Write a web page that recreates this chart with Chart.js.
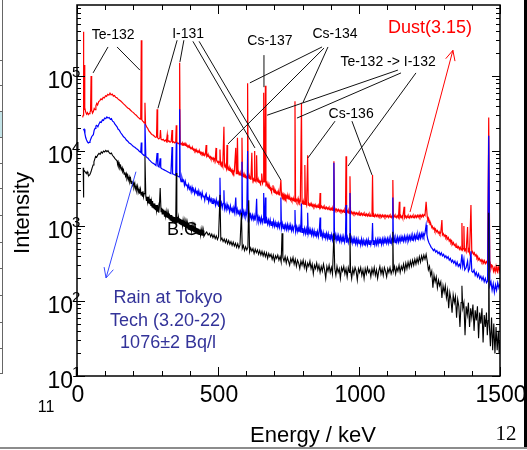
<!DOCTYPE html>
<html>
<head>
<meta charset="utf-8">
<script src="https://cdn.jsdelivr.net/npm/chart.js@4.4.1/dist/chart.umd.min.js"></script>
<style>
	body { margin: 0; background: #fff; }
	canvas { display: block; }
</style>
</head>
<body>
<canvas id="spectrum" width="527" height="450"></canvas>
<script type="text/javascript">
	/*jshint esversion: 6 */
	// [keV, counts]
	var dustSpectrum = [
		[20,28000],[22,30000],[23,390000],[24,40000],[26,36000],[27,140000],[28,38000],[31,33000],[34,31000],[37,32500],
		[40,30500],[43,31500],[46,33000],[48,34000],[50,100000],[52,35000],[55,32000],[58,33500],[61,37000],[64,35500],
		[67,40000],[70,43000],[73,41000],[77,45500],[81,47000],[85,49500],[89,48500],[93,52000],[97,51000],[101,54500],
		[105,53500],[109,57000],[113,55500],[117,59000],[121,56000],[125,57500],[129,54000],[133,55000],[137,52000],[141,51500],
		[145,49500],[150,48000],[155,46500],[160,44500],[165,42500],[170,41000],[175,39000],[180,37500],[185,36500],[190,35000],
		[195,33500],[200,32500],[205,31000],[210,30000],[215,28500],[220,27500],[224,26500],[226,27000],[228,300000],[230,26000],
		[233,25000],[236,24500],[239,23500],[241,44000],[243,22500],[247,21000],[251,20000],[255,18500],[259,17800],[263,17000],
		[267,16500],[271,16200],[275,15600],[279,15200],[282,15400],[284,36000],[286,15000],[290,14500],[294,15000],[296,19000],
		[298,14400],[302,14000],[306,14300],[310,13600],[314,14000],[317,13400],[320,16500],[322,13300],[326,13700],[330,13100],
		[334,13400],[337,19000],[339,13000],[343,13300],[347,12800],[350,13100],[352,22000],[354,12600],[358,12800],[362,12400],
		[364,150000],[366,12300],[370,12600],[373,12000],[375,12700],[378,12100],[380,12600],[383,11900],[385,12300],[388,11600],
		[390,12000],[393,11300],[395,11700],[398,11100],[400,11500],[403,10800],[405,11100],[408,10600],[410,11000],[413,10300],
		[415,10600],[418,10000],[420,10400],[423,9800],[425,10200],[428,9600],[430,10000],[433,9500],[435,9900],[438,9200],
		[440,9600],[443,9100],[445,9400],[448,8800],[450,9200],[453,8700],[455,9000],[458,12000],[460,8500],[463,8900],
		[465,8400],[468,8600],[470,8100],[473,8400],[475,7900],[478,8200],[480,7800],[483,8100],[485,7600],[488,7900],
		[490,7400],[493,11000],[495,7500],[498,7100],[500,7300],[503,6900],[505,7100],[507,10500],[509,6700],[511,7000],
		[513,6600],[515,6900],[517,6400],[521,21000],[523,6400],[525,6100],[527,6300],[530,5800],[532,12000],[534,5900],
		[536,5600],[538,5800],[540,5500],[542,5800],[544,5400],[546,5600],[548,5300],[550,5600],[552,5200],[554,5400],
		[556,5100],[558,5400],[563,11000],[565,5000],[567,5300],[569,15000],[571,5000],[573,5200],[575,4800],[577,5000],
		[579,4800],[581,5000],[583,4700],[585,15000],[587,4800],[589,4550],[591,4750],[593,4500],[595,4700],[597,4400],
		[599,4600],[601,4400],[603,4600],[605,80000],[607,4400],[609,4600],[611,4300],[613,4500],[615,4200],[617,4400],
		[620,9500],[622,4250],[624,4050],[626,4250],[628,4000],[630,10000],[632,4100],[634,3950],[635,4150],[637,8800],
		[639,3950],[641,4100],[643,3850],[645,4050],[647,3800],[649,3950],[651,3750],[653,3950],[655,5000],[658,3700],
		[660,3900],[662,60000],[664,4500],[666,3800],[668,74000],[670,3600],[672,3750],[674,3400],[676,3500],[678,3250],
		[680,3400],[682,3150],[684,3300],[686,3050],[688,3200],[690,2950],[692,3100],[695,3500],[697,2950],[699,2800],
		[701,2950],[703,2750],[705,2900],[708,2700],[710,2850],[713,2650],[715,2800],[717,2600],[719,2700],[723,4100],
		[725,2550],[727,2700],[729,2500],[731,2650],[733,2450],[735,2600],[737,2420],[739,2550],[741,2350],[743,2500],
		[745,2350],[747,2480],[749,2300],[751,2420],[753,2280],[755,2400],[757,2230],[760,2350],[762,2200],[765,2320],
		[767,2180],[769,2280],[771,2150],[773,46000],[775,2150],[778,2250],[780,2100],[782,2200],[784,2350],[786,2080],
		[788,2180],[790,2050],[792,2150],[796,44000],[798,2000],[800,2100],[802,1960],[804,2080],[806,1950],[808,6500],
		[810,1940],[812,2050],[814,1920],[818,8800],[820,1900],[822,2000],[825,1880],[827,1980],[830,1850],[832,1950],
		[835,1830],[837,1930],[840,1810],[842,1900],[845,1800],[847,1890],[850,1780],[852,1870],[855,1770],[857,1860],
		[860,1750],[862,2750],[864,1760],[867,1840],[870,1730],[873,1820],[876,1710],[879,1800],[882,1690],[885,1780],
		[888,1680],[891,1760],[894,1650],[897,1740],[900,1640],[903,1720],[905,1630],[907,1710],[909,1620],[911,7300],
		[913,1620],[915,1700],[918,1600],[921,1680],[924,1580],[927,1660],[930,1560],[933,1640],[936,1550],[939,1630],
		[942,1530],[945,1610],[948,1520],[950,1600],[952,1510],[954,8500],[956,1500],[959,1590],[962,1490],[964,1570],
		[966,1470],[968,4600],[970,1470],[973,1550],[976,1450],[979,1530],[982,1440],[985,1520],[988,1430],[991,1500],
		[994,1420],[997,1500],[1000,1400],[1003,1490],[1006,1400],[1009,1480],[1012,1390],[1015,1470],[1018,1380],[1021,1460],
		[1024,1370],[1027,1450],[1030,1360],[1033,1440],[1036,1350],[1039,1440],[1042,1350],[1046,1370],[1048,4800],[1050,1340],
		[1053,1420],[1056,1330],[1059,1420],[1062,1340],[1065,1410],[1068,1320],[1071,1410],[1074,1330],[1077,1400],[1080,1310],
		[1083,1400],[1086,1320],[1089,1390],[1092,1310],[1095,1390],[1098,1320],[1101,1380],[1104,1300],[1107,1390],[1110,1310],
		[1113,1380],[1116,1300],[1118,1360],[1120,4100],[1122,1300],[1125,1380],[1128,1310],[1131,1370],[1134,1290],[1137,1370],
		[1140,1300],[1143,2100],[1145,1290],[1148,1370],[1150,1300],[1153,1360],[1155,1280],[1160,1800],[1162,1290],[1165,1360],
		[1168,1280],[1171,1370],[1174,1290],[1177,1360],[1180,1280],[1183,1370],[1186,1300],[1189,1370],[1192,1290],[1195,1380],
		[1198,1300],[1201,1380],[1204,1300],[1207,1390],[1210,1310],[1213,1400],[1216,1310],[1219,1400],[1222,1320],[1225,1410],
		[1228,1330],[1231,1420],[1234,1380],[1238,2100],[1242,1320],[1244,1200],[1246,1260],[1248,1130],[1250,1150],[1252,1040],
		[1255,1060],[1258,960],[1260,990],[1263,910],[1266,950],[1269,860],[1272,900],[1275,840],[1278,870],[1281,800],
		[1284,840],[1287,780],[1290,820],[1294,1200],[1296,760],[1299,790],[1302,730],[1305,760],[1308,700],[1311,730],
		[1314,670],[1317,700],[1320,630],[1323,660],[1326,600],[1329,630],[1332,570],[1335,600],[1338,550],[1341,570],
		[1344,520],[1347,550],[1350,510],[1353,530],[1356,490],[1359,520],[1362,480],[1365,1100],[1367,480],[1370,500],
		[1372,1000],[1374,470],[1377,490],[1380,455],[1385,970],[1387,450],[1390,470],[1392,440],[1397,1900],[1400,435],
		[1403,455],[1406,420],[1409,440],[1412,400],[1415,415],[1418,375],[1421,390],[1424,355],[1427,370],[1430,340],
		[1433,355],[1436,330],[1439,350],[1442,320],[1445,345],[1448,315],[1452,335],[1456,310],[1460,28000],[1464,290],
		[1466,310],[1468,270],[1471,300],[1474,290],[1477,250],[1480,275],[1483,245],[1486,290],[1489,250],[1492,240],
		[1494,280],[1496,300],[1498,255],[1500,280]
	];
	var rainSpectrum = [
		[22,19000],[25,19500],[28,17000],[31,15000],[34,14000],[37,13200],[40,12800],[43,13000],[46,13500],[49,14500],
		[52,15500],[55,16000],[58,16500],[61,19000],[64,20000],[67,21500],[70,22000],[74,21000],[78,23000],[82,24500],
		[86,24000],[90,26000],[94,25500],[98,27500],[102,27000],[106,28500],[110,27500],[114,28000],[118,26500],[122,27000],
		[126,25000],[130,24500],[134,23000],[138,22000],[142,21000],[146,19500],[150,19000],[155,17500],[160,16500],[165,15500],
		[170,15000],[175,14000],[180,13500],[185,12800],[190,12500],[195,12000],[200,11500],[205,11200],[210,10800],[215,10500],
		[220,10000],[224,9700],[226,9600],[228,13000],[230,9300],[234,9000],[238,8700],[241,23000],[244,8500],[248,8200],
		[252,8000],[256,7600],[260,7400],[264,7100],[268,6900],[272,6800],[276,6600],[280,6400],[284,9400],[287,6300],
		[291,6100],[295,8000],[297,6000],[301,5800],[305,5700],[309,5600],[313,5500],[317,5400],[321,5300],[325,5200],
		[329,5100],[333,5000],[337,11300],[339,4950],[343,4900],[347,4800],[350,4750],[352,13000],[354,4700],[358,4600],
		[362,4500],[364,36000],[366,4400],[369,3900],[372,4450],[375,3950],[378,4100],[381,3500],[384,3950],[387,3450],
		[390,3600],[393,3150],[396,3550],[399,3100],[402,3300],[405,2850],[408,3300],[411,2900],[414,3050],[417,2700],
		[420,3100],[423,2750],[426,2900],[429,2500],[432,2950],[435,2600],[438,2750],[441,2400],[444,2800],[447,2450],
		[450,2550],[453,2200],[456,2600],[458,2700],[461,2250],[464,2450],[467,2100],[470,2450],[473,2150],[476,2300],
		[479,2000],[482,2350],[485,2050],[488,2200],[491,1900],[494,2250],[497,1950],[500,2100],[503,1800],[505,2150],
		[507,4400],[509,1850],[512,2050],[515,1750],[518,2000],[521,3000],[523,1700],[526,1900],[529,1650],[532,1950],
		[535,1700],[538,1800],[541,1550],[544,1850],[547,1600],[550,1720],[553,1480],[556,1750],[559,1520],[563,2400],
		[565,1500],[568,1680],[571,1450],[574,1650],[577,1420],[580,1580],[583,1380],[585,7200],[587,1400],[590,1580],
		[593,1350],[596,1550],[599,1330],[602,1480],[605,10000],[607,1300],[610,1480],[613,1270],[616,1420],[619,1240],
		[622,1400],[625,1220],[628,1380],[631,1180],[634,1350],[637,2300],[639,1170],[642,1330],[645,1150],[648,1290],
		[651,1120],[654,1300],[657,1110],[660,1260],[662,2750],[664,1100],[666,1250],[668,2400],[670,1080],[673,1230],
		[676,1060],[679,1200],[682,1040],[685,1210],[688,1020],[691,1160],[694,1000],[697,1170],[700,990],[703,1120],
		[706,980],[709,1140],[712,960],[715,1090],[718,950],[721,1100],[723,2400],[725,940],[728,1080],[731,920],
		[734,1070],[737,910],[740,1040],[743,900],[746,1050],[749,890],[752,1020],[755,880],[758,1030],[761,870],
		[764,990],[767,860],[770,1000],[773,1630],[775,850],[778,980],[781,840],[784,960],[787,830],[790,970],
		[793,820],[796,2000],[798,820],[801,940],[804,800],[807,930],[810,790],[813,920],[816,780],[818,1500],
		[820,790],[823,900],[826,770],[829,890],[832,760],[835,880],[838,750],[841,870],[844,740],[847,860],
		[850,740],[853,850],[856,720],[859,840],[862,1300],[864,720],[867,830],[870,700],[873,820],[876,700],
		[879,810],[882,690],[885,800],[888,680],[891,790],[894,670],[897,780],[900,670],[903,770],[906,650],
		[909,760],[911,7000],[913,650],[916,760],[919,640],[922,750],[925,630],[928,740],[931,630],[934,730],
		[937,620],[940,720],[943,610],[946,720],[949,610],[952,700],[954,1900],[956,600],[959,700],[962,600],
		[965,690],[968,2750],[970,590],[973,690],[976,590],[979,680],[982,580],[985,680],[988,580],[991,670],
		[994,570],[997,670],[1000,580],[1003,660],[1006,560],[1009,670],[1012,570],[1015,650],[1018,560],[1021,660],
		[1024,570],[1027,650],[1030,560],[1033,660],[1036,570],[1039,650],[1042,560],[1046,660],[1048,1100],[1050,570],
		[1053,650],[1056,560],[1059,660],[1062,570],[1065,660],[1068,570],[1071,670],[1074,580],[1077,660],[1080,570],
		[1083,670],[1086,580],[1089,680],[1092,580],[1095,670],[1098,590],[1101,680],[1104,590],[1107,690],[1110,590],
		[1113,680],[1116,600],[1118,690],[1120,2400],[1122,600],[1125,700],[1128,600],[1131,690],[1134,610],[1137,710],
		[1140,610],[1143,700],[1146,620],[1149,720],[1152,620],[1155,710],[1158,630],[1161,730],[1164,630],[1167,720],
		[1170,640],[1173,740],[1176,640],[1179,730],[1182,650],[1185,750],[1188,650],[1191,740],[1194,660],[1197,760],
		[1200,660],[1203,760],[1206,670],[1209,770],[1212,680],[1215,780],[1218,690],[1221,790],[1224,700],[1227,800],
		[1230,720],[1234,800],[1238,1030],[1241,760],[1244,660],[1248,600],[1252,560],[1256,520],[1260,500],[1264,470],
		[1268,490],[1272,450],[1276,470],[1280,430],[1284,450],[1288,410],[1292,440],[1296,400],[1300,420],[1304,380],
		[1308,400],[1312,370],[1316,390],[1320,350],[1324,370],[1328,330],[1332,350],[1336,320],[1340,340],[1344,300],
		[1348,330],[1352,290],[1356,310],[1360,280],[1365,420],[1368,290],[1372,360],[1375,260],[1380,280],[1385,340],
		[1388,250],[1392,270],[1397,460],[1400,250],[1404,240],[1408,260],[1412,220],[1416,240],[1420,210],[1424,230],
		[1428,200],[1432,215],[1436,190],[1440,210],[1444,180],[1448,200],[1452,175],[1456,185],[1460,16000],[1464,160],
		[1468,180],[1472,140],[1476,170],[1480,130],[1484,165],[1488,140],[1492,175],[1496,150],[1500,170]
	];
	var bgSpectrum = [
		[22,6000],[23,2400],[24,5600],[27,5400],[30,5200],[33,5000],[36,5300],[39,4900],[42,4700],[45,4800],
		[48,5100],[51,5500],[54,6000],[57,6500],[60,7200],[63,7800],[66,8500],[70,8300],[74,8900],[78,9300],
		[82,9000],[86,9700],[90,9400],[94,10000],[98,9700],[102,10200],[106,9800],[110,10100],[114,9500],[118,9200],
		[122,9400],[126,8700],[130,8400],[134,8000],[138,7700],[142,7400],[144,6700],[146,7100],[148,6300],[150,6700],
		[152,5900],[155,6300],[157,5600],[160,6000],[162,5300],[165,5600],[167,4900],[170,5200],[172,4600],[175,5000],
		[177,4300],[180,4700],[182,4100],[185,4500],[187,3900],[190,4300],[192,3700],[195,4000],[197,3500],[200,3800],
		[202,3300],[205,3700],[207,3100],[210,3400],[212,3000],[215,3400],[217,2800],[220,3100],[222,2700],[225,3100],
		[227,2600],[230,2850],[232,2500],[234,2900],[236,2450],[238,2700],[241,8500],[244,2500],[246,2200],[248,2450],
		[250,2100],[252,2450],[254,2000],[256,2300],[258,1950],[260,2300],[262,1850],[264,2150],[266,1800],[268,2150],
		[270,1750],[272,2000],[274,1700],[276,2000],[278,1650],[280,1900],[282,1600],[284,1900],[286,1550],[288,1800],
		[290,1500],[292,1800],[295,3200],[298,1550],[300,1750],[302,1450],[304,1700],[306,1450],[308,1650],[310,1350],
		[312,1600],[314,1350],[316,1550],[318,1300],[320,1500],[322,1280],[324,1480],[326,1230],[328,1450],[330,1200],
		[332,1400],[334,1180],[336,1400],[338,1150],[340,1350],[342,1120],[344,1320],[346,1100],[348,1300],[350,1080],
		[352,5100],[354,1080],[356,1330],[358,1110],[360,1300],[362,1080],[364,1270],[366,1060],[368,1240],[370,1040],
		[372,1210],[374,1010],[376,1180],[378,990],[380,1160],[382,970],[384,1130],[386,950],[388,1110],[390,930],
		[392,1090],[394,910],[396,1070],[398,900],[400,1050],[402,880],[404,1030],[406,860],[408,1010],[410,850],
		[412,990],[414,830],[416,980],[418,820],[420,960],[422,800],[424,950],[426,790],[428,930],[430,780],
		[432,920],[434,770],[436,900],[438,760],[440,890],[442,750],[444,880],[446,740],[448,870],[450,730],
		[455,790],[460,830],[465,760],[470,800],[474,720],[478,780],[482,700],[486,760],[490,680],[494,740],
		[498,660],[502,720],[507,2600],[510,650],[514,690],[518,620],[522,670],[526,600],[530,660],[534,580],
		[538,640],[542,570],[546,620],[550,550],[554,610],[558,540],[562,590],[566,520],[570,580],[574,510],
		[578,560],[583,1500],[586,500],[590,550],[594,470],[598,530],[602,480],[606,520],[609,2200],[612,450],
		[616,510],[620,460],[624,500],[628,430],[632,490],[636,440],[640,480],[644,420],[648,470],[652,410],
		[656,460],[660,400],[664,450],[668,390],[672,440],[676,370],[680,430],[684,390],[688,420],[692,360],
		[696,410],[700,340],[704,400],[708,370],[712,410],[716,350],[720,390],[724,330],[727,800],[730,380],
		[734,340],[738,390],[742,320],[746,380],[750,340],[754,300],[758,370],[762,330],[766,380],[770,310],
		[774,360],[778,290],[782,350],[786,320],[790,270],[794,340],[798,300],[802,350],[806,280],[810,330],
		[814,260],[818,320],[822,290],[826,340],[830,270],[834,310],[838,230],[842,300],[846,270],[850,320],
		[854,260],[858,300],[862,240],[866,290],[870,250],[874,310],[878,260],[882,200],[886,290],[890,250],
		[894,300],[898,240],[902,280],[906,230],[911,800],[914,270],[918,220],[922,290],[926,240],[930,270],
		[934,200],[938,280],[942,250],[946,290],[950,230],[954,270],[958,210],[962,280],[966,240],[968,800],
		[970,260],[974,200],[978,270],[982,230],[986,280],[990,250],[994,190],[998,270],[1002,240],[1006,280],
		[1010,220],[1014,260],[1018,200],[1022,270],[1026,230],[1030,280],[1034,240],[1038,260],[1042,210],[1046,270],
		[1050,230],[1054,280],[1058,220],[1062,260],[1066,200],[1070,250],[1074,290],[1078,230],[1082,270],[1086,220],
		[1090,280],[1094,250],[1098,210],[1102,270],[1106,240],[1110,280],[1114,230],[1118,260],[1120,840],[1122,250],
		[1126,290],[1130,230],[1134,280],[1138,250],[1142,300],[1146,240],[1150,290],[1154,260],[1158,310],[1162,250],
		[1166,320],[1170,270],[1174,330],[1178,280],[1182,340],[1186,290],[1190,350],[1194,300],[1198,360],[1202,310],
		[1206,370],[1210,320],[1214,390],[1218,330],[1222,400],[1226,350],[1230,410],[1234,360],[1238,420],[1242,340],
		[1246,260],[1250,290],[1254,220],[1258,250],[1262,150],[1266,220],[1270,180],[1274,210],[1278,150],[1282,190],
		[1286,160],[1290,180],[1294,110],[1298,160],[1302,130],[1306,160],[1310,110],[1314,140],[1318,80],[1322,130],
		[1326,105],[1330,70],[1334,120],[1338,95],[1342,115],[1346,60],[1350,105],[1354,85],[1358,45],[1362,95],
		[1365,160],[1368,80],[1372,95],[1376,35],[1380,85],[1384,65],[1388,95],[1392,45],[1396,80],[1400,60],
		[1404,90],[1408,40],[1412,75],[1416,55],[1420,85],[1424,32],[1428,70],[1432,50],[1436,80],[1440,28],
		[1444,65],[1448,45],[1452,70],[1455,35],[1458,55],[1460,1500],[1462,50],[1466,25],[1470,60],[1474,22],
		[1478,50],[1482,20],[1486,45],[1490,22],[1494,40],[1497,20],[1500,30]
	];

	var xMajorTicks = [0, 500, 1000, 1500];
	var xTickLabels = ['0', '500', '1000', '1500'];
	var xMinorTicks = [100, 200, 300, 400, 600, 700, 800, 900, 1100, 1200, 1300, 1400];
	var yDecades = [1, 2, 3, 4, 5];

	// nuclide labels: text anchor and leader lines, in [keV, counts]
	var peakLabels = [
		{ text: 'Te-132', at: [128, 3.1e5], leaders: [[[110, 2.44e5], [57, 1.1e5]], [[142, 2.44e5], [223, 1.2e5]]] },
		{ text: 'I-131', at: [394, 3.2e5], leaders: [[[355, 3.0e5], [287, 3.7e4]], [[379, 3.0e5], [365, 1.54e5]],
			[[411, 2.9e5], [631, 1.1e4]], [[433, 2.9e5], [723, 4.1e3]]] },
		{ text: 'Cs-137', at: [684, 2.6e5], leaders: [[[663, 1.9e5], [663, 7.1e4]]] },
		{ text: 'Cs-134', at: [915, 3.2e5], leaders: [[[869, 2.44e5], [613, 8.1e4]], [[876, 2.36e5], [535, 1.24e4]],
			[[890, 2.44e5], [801, 4.4e4]]] },
		{ text: 'Te-132 -> I-132', at: [1103, 1.36e5], leaders: [[[1138, 1.2e5], [674, 3.0e4]], [[1149, 1.1e5], [780, 2.75e4]],
			[[1202, 1.1e5], [961, 6.3e3]]] },
		{ text: 'Cs-136', at: [972, 2.75e4], leaders: [[[915, 2.5e4], [819, 8.1e3]], [[975, 2.5e4], [1046, 4.8e3]]] }
	];
	var sampleNotes = [
		{ lines: ['Dust(3.15)'], at: [1252, 3.7e5], color: '#ff0000', arrow: [[1181, 1540], [1333, 2.2e5]] },
		{ lines: ['Rain at Tokyo', 'Tech (3.20-22)', '1076\u00b12 Bq/l'], at: [323, 94], color: '#333399', arrow: [[209, 5300], [103, 203]], arrowColor: '#3344ff' },
		{ lines: ['B.G.'], at: [383, 759], color: '#000000' }
	];

	var SANS = "'Liberation Sans', Arial, sans-serif";

	function toXY(series) {
		return series.map(function(p) { return { x: p[0], y: p[1] }; });
	}

	var decorations = {
		id: 'decorations',
		afterDraw: function(chart) {
			var c = chart.ctx, a = chart.chartArea;
			var xs = chart.scales.x, ys = chart.scales.y;
			var X = function(e) { return xs.getPixelForValue(e); };
			var Y = function(v) { return ys.getPixelForValue(v); };
			c.save();

			// slide leftovers: table edge on the left, frame on the right and bottom
			c.fillStyle = '#c4e4e8';
			c.fillRect(0, 111, 2, 26);
			c.strokeStyle = '#666';
			c.lineWidth = 1;
			c.beginPath();
			c.moveTo(2.5, 0); c.lineTo(2.5, 373);
			[60, 85, 111, 137, 163, 188, 215, 242, 268, 295, 322, 348, 373].forEach(function(y) {
				c.moveTo(0, y + 0.5); c.lineTo(3, y + 0.5);
			});
			c.stroke();
			c.fillStyle = '#000';
			c.fillRect(524, 0, 3, 447);
			c.fillStyle = '#8c8c8c';
			c.fillRect(0, 447, 527, 2);

			// plot frame
			c.strokeStyle = '#000';
			c.lineWidth = 1.5;
			c.strokeRect(a.left, a.top, a.right - a.left, a.bottom - a.top);

			// ticks on all four sides, pointing inward
			c.lineWidth = 1;
			c.beginPath();
			xMajorTicks.concat(xMinorTicks).forEach(function(e) {
				var len = xMajorTicks.indexOf(e) >= 0 ? 9 : 5;
				var px = Math.round(X(e)) + 0.5;
				c.moveTo(px, a.bottom); c.lineTo(px, a.bottom - len);
				c.moveTo(px, a.top); c.lineTo(px, a.top + len);
			});
			yDecades.concat([0]).forEach(function(d) {
				for (var m = 1; m <= 9; m++) {
					var v = m * Math.pow(10, d + 1);
					if (v < ys.min || v > ys.max) continue;
					var len = m === 1 ? 8 : 4;
					var py = Math.round(Y(v)) + 0.5;
					c.moveTo(a.left, py); c.lineTo(a.left + len, py);
					c.moveTo(a.right, py); c.lineTo(a.right - len, py);
				}
			});
			c.stroke();

			// tick labels
			c.fillStyle = '#000';
			c.font = '23px ' + SANS;
			c.textAlign = 'center';
			c.textBaseline = 'alphabetic';
			xMajorTicks.forEach(function(e, i) {
				c.fillText(xTickLabels[i], X(e) + 1, a.bottom + 26);
			});
			yDecades.forEach(function(d) {
				var py = Y(Math.pow(10, d));
				c.font = '23px ' + SANS;
				c.textAlign = 'right';
				c.fillText('10', 73, py + 12);
				c.font = '15px ' + SANS;
				c.textAlign = 'left';
				c.fillText(String(d), 72, py + 1);
			});

			// axis titles and page numbers
			c.font = '22px ' + SANS;
			c.textAlign = 'center';
			c.fillText('Energy / keV', 313, 442);
			c.save();
			c.translate(29, 213);
			c.rotate(-Math.PI / 2);
			c.fillText('Intensity', 0, 0);
			c.restore();
			c.font = '16px ' + SANS;
			c.fillText('11', 46, 412);
			c.font = "21px 'Liberation Serif', 'Times New Roman', serif";
			c.fillText('12', 506, 440);

			// nuclide labels with leader lines
			c.font = '14px ' + SANS;
			c.lineWidth = 1;
			c.strokeStyle = '#111';
			peakLabels.forEach(function(lab) {
				c.fillStyle = '#000';
				c.textAlign = 'center';
				c.fillText(lab.text, X(lab.at[0]), Y(lab.at[1]));
				c.beginPath();
				lab.leaders.forEach(function(l) {
					c.moveTo(X(l[0][0]), Y(l[0][1]));
					c.lineTo(X(l[1][0]), Y(l[1][1]));
				});
				c.stroke();
			});

			// sample names with arrows
			sampleNotes.forEach(function(n) {
				c.fillStyle = n.color;
				c.font = '18px ' + SANS;
				c.textAlign = 'center';
				n.lines.forEach(function(t, i) {
					c.fillText(t, X(n.at[0]), Y(n.at[1]) + i * 22.5);
				});
				if (!n.arrow) return;
				var x0 = X(n.arrow[0][0]), y0 = Y(n.arrow[0][1]);
				var x1 = X(n.arrow[1][0]), y1 = Y(n.arrow[1][1]);
				var ang = Math.atan2(y1 - y0, x1 - x0);
				c.strokeStyle = n.arrowColor || n.color;
				c.lineWidth = 1;
				c.beginPath();
				c.moveTo(x0, y0); c.lineTo(x1, y1);
				c.moveTo(x1 - 11 * Math.cos(ang - 0.45), y1 - 11 * Math.sin(ang - 0.45));
				c.lineTo(x1, y1);
				c.lineTo(x1 - 11 * Math.cos(ang + 0.45), y1 - 11 * Math.sin(ang + 0.45));
				c.stroke();
			});

			c.restore();
		}
	};

	var spectrumChart = new Chart(document.getElementById('spectrum').getContext('2d'), {
		type: 'line',
		data: {
			datasets: [
				{ label: 'B.G', data: toXY(bgSpectrum), borderColor: '#000000', borderWidth: 1.1 },
				{ label: 'Rain', data: toXY(rainSpectrum), borderColor: '#0000ff', borderWidth: 1.2 },
				{ label: 'Dust', data: toXY(dustSpectrum), borderColor: '#ff0000', borderWidth: 1.2 }
			]
		},
		options: {
			responsive: false,
			animation: false,
			layout: { padding: { left: 77, top: 5, right: 27, bottom: 74 } },
			elements: { point: { radius: 0 }, line: { tension: 0, fill: false } },
			scales: {
				x: { type: 'linear', min: 0, max: 1500, display: false },
				y: { type: 'logarithmic', min: 10, max: 885000, display: false }
			},
			plugins: { legend: { display: false }, tooltip: { enabled: false } }
		},
		plugins: [decorations]
	});
</script>
</body>
</html>
